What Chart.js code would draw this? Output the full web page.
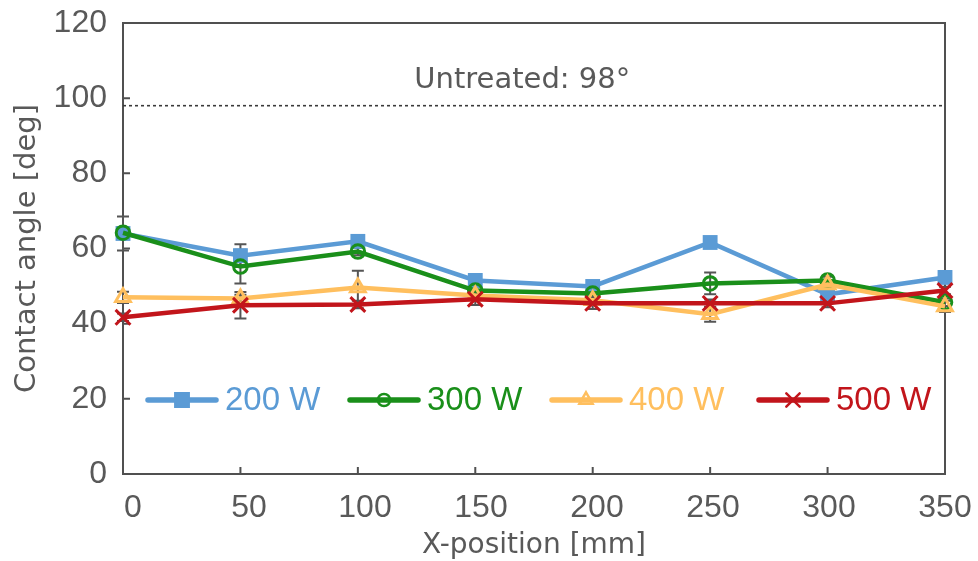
<!DOCTYPE html>
<html><head><meta charset="utf-8">
<script src="https://cdn.jsdelivr.net/npm/chart.js@4/dist/chart.umd.min.js"></script>
<style>html,body{margin:0;padding:0;background:#fff}#wrap{width:978px;height:561px}</style>
</head><body><div id="wrap"><canvas id="c" width="978" height="561"></canvas></div>
<script>
// ---- data ----
const xPositions = [0, 50, 100, 150, 200, 250, 300, 350];
const seriesNames = ['200 W', '300 W', '400 W', '500 W'];
const w200 = [64.0, 58.1, 61.9, 51.5, 49.9, 61.6, 47.8, 52.3];
const w300 = [64.2, 55.2, 59.2, 48.8, 48.0, 50.7, 51.5, 45.7];
const w400 = [47.0, 46.7, 49.6, 47.5, 46.2, 42.5, 50.4, 44.6];
const w500 = [41.7, 44.9, 45.1, 46.5, 45.4, 45.4, 45.4, 48.8];
const err200 = [4.5, 3.0, 1.0, 1.0, 1.0, 1.0, 1.0, 1.0];
const err300 = [1.0, 4.5, 1.0, 1.0, 1.0, 2.9, 1.0, 1.0];
const err400 = [1.5, 1.0, 4.5, 1.0, 1.0, 2.0, 1.0, 1.5];
const err500 = [1.0, 3.5, 1.0, 1.5, 1.5, 1.0, 1.0, 1.0];
const yTicks = [0, 20, 40, 60, 80, 100, 120];
const xTicks = [0, 50, 100, 150, 200, 250, 300, 350];
const untreatedValue = 98;
const untreatedLabel = 'Untreated: 98°';
const yTitle = 'Contact angle [deg]';
const xTitle = 'X-position [mm]';

// ---- style ----
const colors = ['#5B9BD5', '#1A8F1A', '#FFBF5E', '#C2151B'];
const styles = ['rect', 'circle', 'triangle', 'crossRot'];
const radii = [10.5, 6.8, 8.5, 10.5];
const fills = ['#5B9BD5', 'rgba(0,0,0,0)', 'rgba(0,0,0,0)', '#C2151B'];
const textGray = '#595959';
const axisGray = '#505050';
const TICK_FONT = "'Liberation Sans'";
const TITLE_FONT = "'DejaVu Sans'";
const TICK_SIZE = 32;
const LEGEND_SIZE = 33;

const allValues = [w200, w300, w400, w500];
const allErrs = [err200, err300, err400, err500];

Chart.defaults.font.family = TICK_FONT;
Chart.defaults.font.size = TICK_SIZE;
Chart.defaults.color = textGray;

const datasets = allValues.map((vals, i) => ({
  label: seriesNames[i],
  data: xPositions.map((x, j) => ({x: x, y: vals[j]})),
  xAxisID: 'x',
  borderColor: colors[i],
  backgroundColor: fills[i],
  borderWidth: 4.5,
  pointStyle: styles[i],
  pointRadius: radii[i],
  pointBorderWidth: i === 0 ? 0 : 3,
  pointBorderColor: colors[i],
  pointBackgroundColor: fills[i],
  tension: 0,
  clip: false,
  order: 4 - i
}));

const custom = {
  id: 'custom',
  beforeDatasetsDraw(chart) {
    const ctx = chart.ctx, xs = chart.scales.x, ys = chart.scales.y, a = chart.chartArea;
    ctx.save();
    // box
    ctx.strokeStyle = axisGray; ctx.lineWidth = 2;
    ctx.strokeRect(a.left, a.top, a.right - a.left, a.bottom - a.top);
    // inward ticks
    ctx.beginPath();
    yTicks.forEach(v => { const p = ys.getPixelForValue(v); ctx.moveTo(a.left, p); ctx.lineTo(a.left + 7, p); });
    xTicks.forEach(v => { const p = xs.getPixelForValue(v); ctx.moveTo(p, a.bottom); ctx.lineTo(p, a.bottom - 7); });
    ctx.stroke();
    // untreated dotted line
    const py = ys.getPixelForValue(untreatedValue);
    ctx.beginPath(); ctx.setLineDash([3, 3]); ctx.lineWidth = 1.6; ctx.strokeStyle = '#3a3a3a';
    ctx.moveTo(a.left, py); ctx.lineTo(a.right, py); ctx.stroke();
    ctx.setLineDash([]);
    ctx.fillStyle = textGray; ctx.font = '29px ' + TITLE_FONT; ctx.textAlign = 'center'; ctx.textBaseline = 'middle';
    ctx.fillText(untreatedLabel, xs.getPixelForValue(170), py - 25);
    // error bars
    ctx.strokeStyle = '#555555'; ctx.lineWidth = 2;
    allValues.forEach((vals, i) => {
      vals.forEach((v, j) => {
        const e = allErrs[i][j];
        const px = xs.getPixelForValue(xPositions[j]);
        const t = ys.getPixelForValue(v + e), b = ys.getPixelForValue(v - e);
        ctx.beginPath();
        ctx.moveTo(px, t); ctx.lineTo(px, b);
        ctx.moveTo(px - 6, t); ctx.lineTo(px + 6, t);
        ctx.moveTo(px - 6, b); ctx.lineTo(px + 6, b);
        ctx.stroke();
      });
    });
    ctx.restore();
  },
  afterDraw(chart) {
    const ctx = chart.ctx;
    const starts = [148, 350, 552, 759];
    const ly = 400;
    ctx.save();
    ctx.font = LEGEND_SIZE + 'px ' + TICK_FONT; ctx.textBaseline = 'middle'; ctx.textAlign = 'left';
    seriesNames.forEach((n, i) => {
      const s = starts[i];
      ctx.strokeStyle = colors[i]; ctx.lineWidth = 5.5; ctx.lineCap = 'round';
      ctx.beginPath(); ctx.moveTo(s, ly); ctx.lineTo(s + 68, ly); ctx.stroke();
      ctx.fillStyle = fills[i]; ctx.strokeStyle = colors[i]; ctx.lineWidth = 2.5;
      Chart.helpers.drawPoint(ctx, {pointStyle: styles[i], radius: radii[i] * 0.9, rotation: 0, borderWidth: 2.5}, s + 34, ly);
      ctx.fillStyle = colors[i];
      ctx.fillText(n, s + 77, ly + 1);
    });
    ctx.restore();
  }
};

new Chart(document.getElementById('c'), {
  type: 'line',
  data: {datasets: datasets},
  options: {
    responsive: false,
    animation: false,
    devicePixelRatio: 1,
    layout: {padding: {top: 23, right: 33, left: 0, bottom: 0}},
    plugins: {legend: {display: false}, tooltip: {enabled: false}},
    scales: {
      x: {
        type: 'linear', position: 'bottom', min: 0, max: 350,
        afterFit: s => { s.height = 0; s.paddingLeft = 0; s.paddingRight = 0; },
        grid: {display: false, drawTicks: false},
        border: {display: false},
        ticks: {display: false}
      },
      xl: {
        type: 'linear', position: 'bottom', min: -4.3, max: 350,
        afterBuildTicks: s => { s.ticks = xTicks.map(v => ({value: v})); },
        afterFit: s => { s.height = 87; s.paddingLeft = 0; s.paddingRight = 0; },
        grid: {display: false, drawTicks: false},
        border: {display: false},
        ticks: {padding: 15, color: textGray, font: {size: TICK_SIZE}},
        title: {display: true, text: xTitle, color: textGray, font: {family: TITLE_FONT, size: 28, lineHeight: 1.1}, padding: {top: 0, bottom: 0}}
      },
      y: {
        min: 0, max: 120,
        afterBuildTicks: s => { s.ticks = yTicks.map(v => ({value: v})); },
        afterFit: s => { s.width = 123; s.paddingTop = 0; s.paddingBottom = 0; },
        grid: {display: false, drawTicks: false},
        border: {display: false},
        ticks: {padding: 16, color: textGray, font: {size: TICK_SIZE}},
        title: {display: true, text: yTitle, color: textGray, font: {family: TITLE_FONT, size: 29}, padding: {top: 10, bottom: 0}}
      }
    }
  },
  plugins: [custom]
});
</script>
</body></html>
